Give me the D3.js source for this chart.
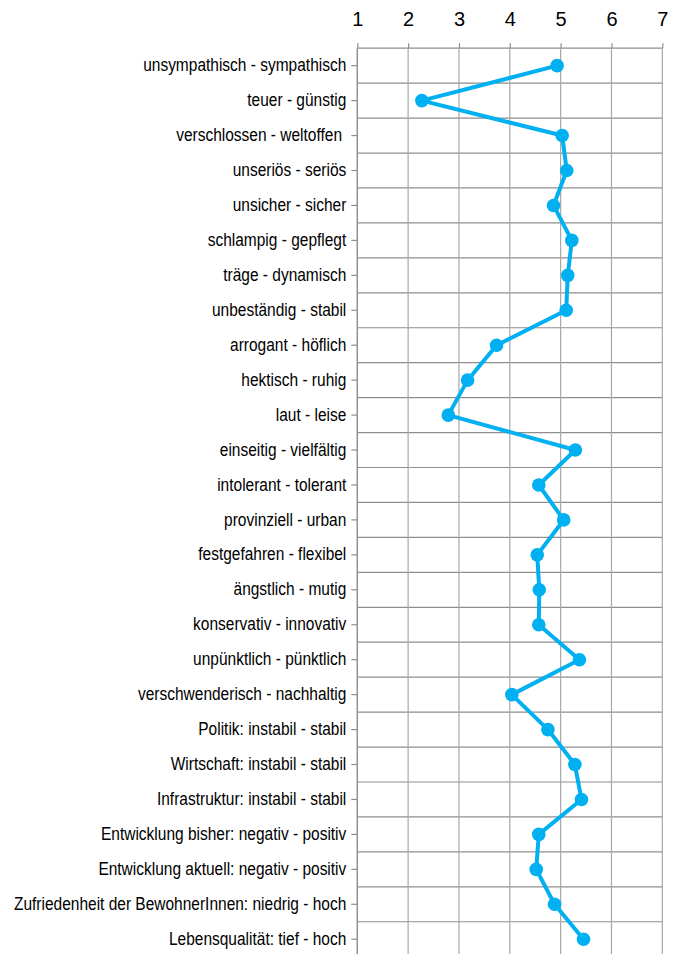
<!DOCTYPE html>
<html><head><meta charset="utf-8">
<script src="https://cdn.jsdelivr.net/npm/d3@7"></script>
<style>
html,body{margin:0;padding:0;background:#fff;overflow:hidden;}
svg{display:block;}
text{font-family:"Liberation Sans",Arial,sans-serif;fill:#000;}
</style></head>
<body>
<script>
const categories = [
 "unsympathisch - sympathisch","teuer - günstig","verschlossen - weltoffen ","unseriös - seriös",
 "unsicher - sicher","schlampig - gepflegt","träge - dynamisch","unbeständig - stabil",
 "arrogant - höflich","hektisch - ruhig","laut - leise","einseitig - vielfältig",
 "intolerant - tolerant","provinziell - urban","festgefahren - flexibel","ängstlich - mutig",
 "konservativ - innovativ","unpünktlich - pünktlich","verschwenderisch - nachhaltig",
 "Politik: instabil - stabil","Wirtschaft: instabil - stabil","Infrastruktur: instabil - stabil",
 "Entwicklung bisher: negativ - positiv","Entwicklung aktuell: negativ - positiv",
 "Zufriedenheit der BewohnerInnen: niedrig - hoch","Lebensqualität: tief - hoch"
];
const values = [4.93,2.27,5.03,5.12,4.86,5.22,5.14,5.11,3.74,3.17,2.79,5.29,4.57,5.06,4.54,4.58,4.57,5.37,4.04,4.75,5.28,5.41,4.57,4.52,4.88,5.45];
const xTicks = [1,2,3,4,5,6,7];

const W = 673, H = 954;
const m = {left:357.3, right:673-662.3, top:48.2, bottom:-2.7};
const svg = d3.select("body").append("svg").attr("width",W).attr("height",H);

const x = d3.scaleLinear().domain([1,7]).range([m.left, W-m.right]);
const y = d3.scaleBand().domain(categories).range([m.top, H-m.bottom]);

// horizontal grid (row boundaries)
const bounds = categories.map(c => y(c)).concat([y.range()[1]]);
svg.append("g").selectAll("line").data(bounds).join("line")
  .attr("x1", x(1)).attr("x2", x(7))
  .attr("y1", d=>d).attr("y2", d=>d)
  .attr("stroke","#8e8e8e").attr("stroke-width",1.2);

// vertical grid
svg.append("g").selectAll("line").data(xTicks).join("line")
  .attr("x1", d=>x(d)).attr("x2", d=>x(d))
  .attr("y1", m.top).attr("y2", H)
  .attr("stroke","#a8a8a8").attr("stroke-width",1.2);

// top axis
const xAxis = svg.append("g").attr("transform",`translate(0,${m.top})`)
  .call(d3.axisTop(x).tickValues(xTicks).tickFormat(d3.format("d")).tickSize(5).tickPadding(17));
xAxis.select(".domain").remove();
xAxis.selectAll(".tick line").attr("stroke","#8e8e8e").attr("stroke-width",1.2);
xAxis.selectAll(".tick text").attr("font-size",20).attr("font-family","Liberation Sans, Arial, sans-serif");

// left axis
const yAxis = svg.append("g").attr("transform",`translate(${m.left},0)`)
  .call(d3.axisLeft(y).tickSize(6).tickPadding(5));
yAxis.select(".domain").attr("stroke","#8e8e8e").attr("stroke-width",1.2).attr("d",`M0,${m.top}V${H}`);
yAxis.selectAll(".tick line").attr("stroke","#8e8e8e").attr("stroke-width",1.2);
yAxis.selectAll(".tick text").attr("font-size",17.5).attr("font-family","Liberation Sans, Arial, sans-serif")
  .style("white-space","pre")
  .each(function(){
    const len = this.getComputedTextLength();
    d3.select(this).attr("textLength", len*0.885).attr("lengthAdjust","spacingAndGlyphs");
  });

// line + points
const line = d3.line().x(d=>x(d[1])).y(d=>y(d[0])+y.bandwidth()/2);
const pts = categories.map((c,i)=>[c, values[i]]);
svg.append("path").datum(pts).attr("d",line)
  .attr("fill","none").attr("stroke","#00b0f0").attr("stroke-width",4).attr("stroke-linejoin","round");
svg.append("g").selectAll("circle").data(pts).join("circle")
  .attr("cx",d=>x(d[1])).attr("cy",d=>y(d[0])+y.bandwidth()/2).attr("r",6.8)
  .attr("fill","#00b0f0");
</script>
</body></html>
